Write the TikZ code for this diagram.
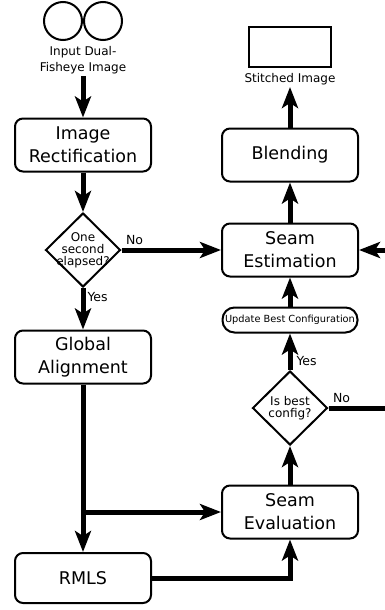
\documentclass[tikz,border=0pt]{standalone}
\usepackage{fontspec}
\setmainfont{DejaVu Sans}
\usetikzlibrary{shapes.geometric, arrows.meta, calc}

\tikzstyle{process} = [rectangle, rounded corners=8pt, minimum width=136pt, minimum height=53pt, text centered, align=center, draw=black, line width=2pt, font=\fontsize{17.5}{23}\selectfont]
\tikzstyle{decision} = [diamond, minimum width=75pt, minimum height=74pt, inner sep=0pt, text centered, align=center, draw=black, line width=2pt, font=\fontsize{12}{12}\selectfont]
\tikzstyle{update} = [rectangle, rounded corners=12pt, minimum width=135pt, minimum height=25pt, inner sep=1pt, draw=black, line width=2pt, font=\fontsize{9.8}{12}\selectfont]
\tikzstyle{fisheye} = [circle, minimum size=38pt, draw=black, line width=2pt]
\tikzstyle{frame} = [rectangle, minimum width=82pt, minimum height=40pt, draw=black, line width=2pt]
\tikzstyle{caption} = [align=center, inner sep=2pt, font=\fontsize{12}{16}\selectfont]
\tikzstyle{answer} = [inner sep=2pt, font=\fontsize{12.5}{14}\selectfont]
\tikzstyle{arrow} = [line width=5pt, -{Stealth[length=21pt, width=16pt, inset=5pt]}]

\begin{document}
\begin{tikzpicture}[node distance=1cm]
\clip (0,0) rectangle (385pt,-610pt);
\useasboundingbox (0,0) rectangle (385pt,-610pt);

\node (lens1) [fisheye] at (63pt,-21pt) {};
\node (lens2) [fisheye, node distance=40pt, right of=lens1] {};
\node (input) [caption] at ($(lens1)!0.5!(lens2)+(0,-39pt)$) {Input Dual-\\Fisheye Image};

\node (rectify) [process, node distance=85pt, below of=input] {Image\\Rectification};
\node (elapsed) [decision, node distance=105pt, below of=rectify, inner sep=-6pt] {One\\second\\elapsed?};
\node (global) [process, node distance=107pt, below of=elapsed] {Global\\Alignment};
\node (rmls) [process, node distance=221pt, below of=global, minimum height=50pt] {RMLS};

\node (estimate) [process, node distance=207pt, right of=elapsed] {Seam\\Estimation};
\node (blending) [process, node distance=95pt, above of=estimate] {Blending};
\node (output) [frame, node distance=108pt, above of=blending] {};
\node (stitched) [caption, node distance=32pt, below of=output] {Stitched Image};

\node (update) [update, node distance=70pt, below of=estimate] {Update Best Configuration};
\node (best) [decision, node distance=88pt, below of=update] {Is best\\config?};
\node (evaluate) [process, node distance=104pt, below of=best] {Seam\\Evaluation};
\coordinate (retry) at ($(best.east)+(70pt,0)$);

\draw [arrow] (input) -- (rectify);
\draw [arrow] (rectify) -- (elapsed);
\draw [arrow] (elapsed) -- node[answer, anchor=south west, pos=0, yshift=1pt] {No} (estimate);
\draw [arrow] (elapsed) -- node[answer, anchor=north west, pos=0] {Yes} (global);

\draw [arrow] (global) -- (rmls);
\draw [arrow] (global |- evaluate) -- (evaluate);
\draw [arrow] (rmls) -| (evaluate);

\draw [arrow] (evaluate) -- (best);
\draw [arrow] (best) -- node[answer, anchor=south west, pos=0, xshift=2pt] {Yes} (update);
\draw [arrow] (best) -- node[answer, anchor=south west, pos=0, yshift=1pt] {No} (retry) |- (estimate);
\draw [arrow] (update) -- (estimate);
\draw [arrow] (estimate) -- (blending);
\draw [arrow] (blending) -- (stitched);

\end{tikzpicture}
\end{document}
